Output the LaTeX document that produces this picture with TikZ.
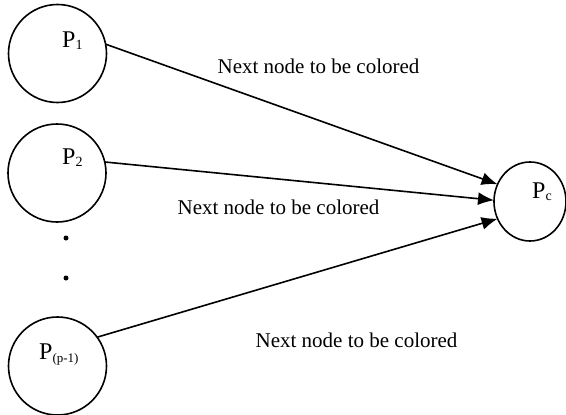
\documentclass[tikz,border=0pt]{standalone}
\usepackage{fontspec}
\setmainfont{Liberation Serif}
\usetikzlibrary{arrows.meta,calc,shapes.geometric}
\begin{document}
\begin{tikzpicture}[x=1pt,y=-1pt,
  proc/.style={circle,draw,line width=1.6pt,minimum size=98pt,inner sep=0pt,outer sep=0pt},
  target/.style={ellipse,draw,line width=1.6pt,minimum width=72pt,minimum height=79pt,inner sep=0pt,outer sep=0pt},
  ptext/.style={anchor=base west,inner sep=0pt,font=\fontsize{24}{28}\selectfont},
  lbl/.style={anchor=base,inner sep=0pt,font=\fontsize{21}{25}\selectfont},
  dotnode/.style={circle,fill,minimum size=5pt,inner sep=0pt},
  conn/.style={line width=1.6pt,-{Latex[length=16pt,width=13pt]}}]
\useasboundingbox (0,0) rectangle (566,415);
\clip (0,0) rectangle (566,415);
\node[proc] (p1) at (57.5,53.5) {};
\node[proc] (p2) at (57,173) {};
\node[proc] (pp) at (57.5,366) {};
\node[target] (pc) at (530,201.5) {};
\node[ptext] (t1) at (62,47) {P\raisebox{-2.5pt}{\fontsize{14}{16}\selectfont 1}};
\node[ptext] (t2) at (62,164) {P\raisebox{-2.5pt}{\fontsize{14}{16}\selectfont 2}};
\node[ptext] (tp) at (39,359) {P\raisebox{-3pt}{\fontsize{13}{15}\selectfont (p-1)}};
\node[ptext] (tc) at (532,198) {P\raisebox{-2.5pt}{\fontsize{14}{16}\selectfont c}};
\node[dotnode] (d1) at (66,238) {};
\node[dotnode] (d2) at (66,278) {};
\draw[conn] (p1.11) -- (pc.152);
\draw[conn] (p2.13) -- (pc.178);
\draw[conn] (pp.36) -- (pc.208);
\node[lbl] (l1) at (318.5,73) {Next node to be colored};
\node[lbl] (l2) at (278.5,214) {Next node to be colored};
\node[lbl] (l3) at (356.5,347) {Next node to be colored};
\end{tikzpicture}
\end{document}
